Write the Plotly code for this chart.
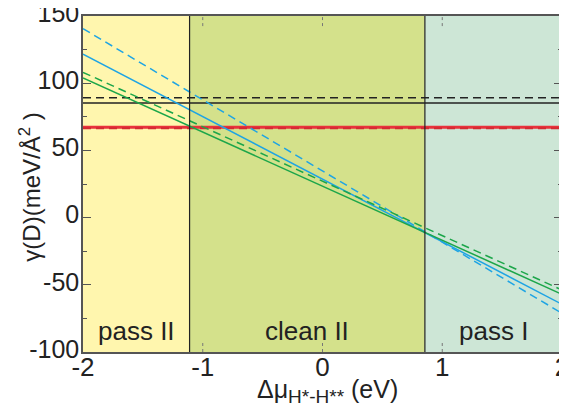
import plotly.graph_objects as go

# Data
x_ends = [-2, 2]
blue_dashed = [140.6, -71.2]
blue_solid = [121.7, -64.5]
green_dashed = [108.1, -53.9]
green_solid = [103.9, -57.1]
black_dashed = 89.2
black_solid = 85.3
red_solid = 67.3
red_dashed = 66.5
boundaries = [-1.11, 0.855]
regions = ["pass II", "clean II", "pass I"]
region_colors = ["#FFF6AE", "#D4E18B", "#CDE6D6"]
x_ticks = [-2, -1, 0, 1, 2]
y_ticks = [-100, -50, 0, 50, 100, 150]

FONT = "Liberation Sans, Arial, Helvetica, sans-serif"
BLUE = "#1EA4E4"
GREEN = "#1CA64A"
RED = "#E8323C"
TXT = "#222222"

fig = go.Figure()

edges = [-2] + boundaries + [2]
for i, c in enumerate(region_colors):
    fig.add_shape(type="rect", xref="x", yref="y domain", x0=edges[i], x1=edges[i + 1],
                  y0=0, y1=1, fillcolor=c, line_width=0, layer="below")

def hline(val, color, width, dash):
    fig.add_trace(go.Scatter(x=x_ends, y=[val, val], mode="lines",
                             line=dict(color=color, width=width, dash=dash),
                             showlegend=False, hoverinfo="skip"))

hline(black_dashed, "#222222", 1.5, "8px,5px")
hline(black_solid, "#222222", 1.5, "solid")
hline(red_solid, RED, 3, "solid")
hline(red_dashed, "#D42A32", 2, "8px,5px")

def sline(vals, color, dash):
    fig.add_trace(go.Scatter(x=x_ends, y=vals, mode="lines",
                             line=dict(color=color, width=1.5, dash=dash),
                             showlegend=False, hoverinfo="skip"))

sline(blue_dashed, BLUE, "8px,5px")
sline(blue_solid, BLUE, "solid")
sline(green_dashed, GREEN, "8px,5px")
sline(green_solid, GREEN, "solid")

for b in boundaries:
    fig.add_shape(type="line", xref="x", yref="y domain", x0=b, x1=b, y0=0, y1=1,
                  line=dict(color="#222222", width=1.2))

for t in x_ticks[1:-1]:
    for y0, y1 in [(0, 0.03), (0.97, 1)]:
        fig.add_shape(type="line", xref="x", yref="y domain", x0=t, x1=t, y0=y0, y1=y1,
                      line=dict(color="#777777", width=1, dash="dot"))

for i, name in enumerate(regions):
    fig.add_annotation(x=(edges[i] + edges[i + 1]) / 2, y=-84, text=name, showarrow=False,
                       font=dict(family=FONT, size=26, color=TXT))

fig.add_annotation(xref="paper", yref="paper", x=0.51, y=-0.115, yanchor="middle",
                   text="Δμ<sub><span style='font-size:19px'>H*-H**</span></sub> (eV)",
                   showarrow=False, font=dict(family=FONT, size=25, color=TXT))
fig.add_annotation(xref="paper", yref="paper", x=-0.11, y=0.49, xanchor="center",
                   text="γ(D)(meV/Å<sup>2</sup> )", textangle=-90, showarrow=False,
                   font=dict(family=FONT, size=24, color=TXT))

# page body has an 8px margin; size the figure so it fits the window exactly
fig.update_layout(
    width=559, height=399,
    margin=dict(l=75, r=5, t=8, b=55),
    paper_bgcolor="white", plot_bgcolor="white",
    font=dict(family=FONT, size=26, color=TXT),
    xaxis=dict(range=[-2, 2], tickvals=x_ticks, ticktext=[str(v) for v in x_ticks],
               showgrid=False, zeroline=False, showline=True, linecolor="#555555",
               linewidth=1.5, mirror=True, ticks="", tickfont=dict(size=26),
               automargin=False, ticklabeloverflow="allow", ticklabelstandoff=-9),
    yaxis=dict(range=[-100, 150], tickvals=y_ticks, ticktext=[str(v) for v in y_ticks],
               showgrid=False, zeroline=False, showline=True, linecolor="#555555",
               linewidth=1.5, mirror="allticks", ticks="inside", ticklen=8, tickwidth=1,
               tickcolor="#555555", tickfont=dict(size=25), automargin=False,
               ticklabeloverflow="allow", ticklabelshift=-3, ticklabelstandoff=-3,
               minor=dict(ticks="inside", ticklen=4, dtick=25, tickcolor="#555555", tickwidth=1)),
)

fig.write_html("out.html")
